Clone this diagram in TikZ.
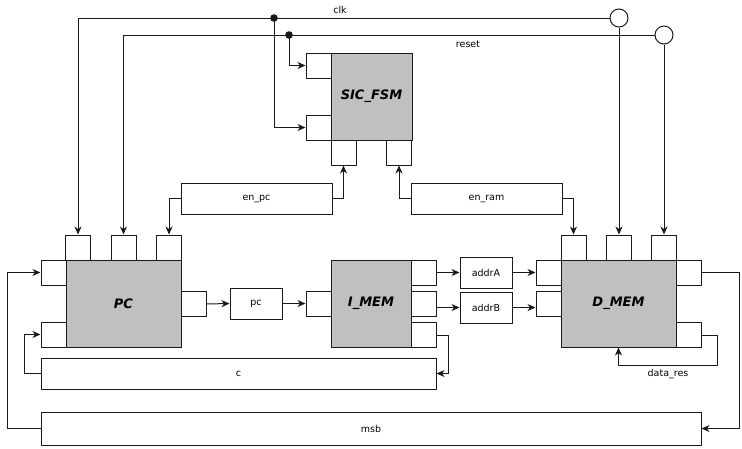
\documentclass[tikz,border=0pt]{standalone}
\usepackage{fontspec}
\setsansfont{DejaVu Sans}
\usepackage{xcolor}
\usepackage{tikz}
\usetikzlibrary{positioning, arrows.meta, calc}
\definecolor{blockgray}{HTML}{C0C0C0}
\definecolor{wirecol}{HTML}{1A1A1A}

\tikzset{
  block/.style={draw=wirecol, fill=blockgray, line width=1pt, inner sep=0pt,
                font=\sffamily\bfseries\itshape\fontsize{13}{15}\selectfont},
  port/.style={draw=wirecol, fill=white, line width=1pt, inner sep=0pt,
               minimum width=25pt, minimum height=25pt},
  sigbox/.style={draw=wirecol, fill=white, line width=1pt, inner sep=0pt,
                 minimum height=31pt, font=\sffamily\fontsize{9.5}{11}\selectfont},
  wire/.style={draw=wirecol, line width=1pt},
  arr/.style={wire, -{Stealth[length=8pt, width=7pt, inset=2.5pt]}},
  lbl/.style={font=\sffamily\fontsize{9.5}{11}\selectfont, inner sep=0pt}
}

\begin{document}
\begin{tikzpicture}[x=1pt, y=-1pt]
    \useasboundingbox (0,0) rectangle (742,448);

    % main blocks
    \node[block, minimum width=81pt, minimum height=87pt] (fsm) at (371.5,96.5) {SIC\_FSM};
    \node[block, minimum width=115pt, minimum height=87pt] (pc) at (123.5,303.5) {PC};
    \node[block, minimum width=80pt, minimum height=87pt] (imem) at (371,303.5) {I\_MEM};
    \node[block, minimum width=115pt, minimum height=87pt] (dmem) at (618.5,303.5) {D\_MEM};

    % ports
    \node[port] (fsmL1) at (318.5,65.5) {};
    \node[port] (fsmL2) at (318.5,127.5) {};
    \node[port] (fsmB1) at (343.5,152.5) {};
    \node[port] (fsmB2) at (399,152.5) {};

    \node[port] (pcT1) at (78,247.5) {};
    \node[port] (pcT2) at (123.5,247.5) {};
    \node[port] (pcT3) at (169,247.5) {};
    \node[port] (pcL1) at (53.5,272.5) {};
    \node[port] (pcL2) at (53.5,334.5) {};
    \node[port] (pcR) at (193.5,304) {};

    \node[port] (imemL) at (318.5,303.5) {};
    \node[port] (imemR1) at (423.5,272.5) {};
    \node[port] (imemR2) at (423.5,304) {};
    \node[port] (imemR3) at (423.5,335) {};

    \node[port] (dmemT1) at (573.5,247.5) {};
    \node[port] (dmemT2) at (619,247.5) {};
    \node[port] (dmemT3) at (664,247.5) {};
    \node[port] (dmemL1) at (548.5,272.5) {};
    \node[port] (dmemL2) at (548.5,304) {};
    \node[port] (dmemR1) at (688.5,272.5) {};
    \node[port] (dmemR2) at (688.5,335) {};

    % signal boxes
    \node[sigbox, minimum width=151pt] (enpc) at (256.5,198.5) {en\_pc};
    \node[sigbox, minimum width=151pt] (enram) at (486.5,198.5) {en\_ram};
    \node[sigbox, minimum width=52pt] (pcsig) at (256,303.5) {pc};
    \node[sigbox, minimum width=52pt] (addrA) at (486,272.5) {addrA};
    \node[sigbox, minimum width=52pt] (addrB) at (486,307.5) {addrB};
    \node[sigbox, minimum width=395pt] (csig) at (238.5,373.5) {c};
    \node[sigbox, minimum width=660pt, minimum height=33pt] (msb) at (371,428.5) {msb};

    % clock and reset sources
    \node[draw=wirecol, fill=white, line width=1pt, circle, minimum size=18pt, inner sep=0pt] (clk) at (619,18) {};
    \node[draw=wirecol, fill=white, line width=1pt, circle, minimum size=18pt, inner sep=0pt] (rst) at (664,35) {};
    \coordinate (clkdot) at (274,18);
    \coordinate (rstdot) at (289,35);

    \draw[arr] (clk.west) -| (pcT1.north);
    \draw[arr] (rst.west) -| (pcT2.north);
    \draw[arr] (clk.south) -- (dmemT2.north);
    \draw[arr] (rst.south) -- (dmemT3.north);
    \draw[arr] (clkdot) |- (fsmL2.west);
    \draw[arr] (rstdot) |- (fsmL1.west);
    \fill[wirecol] (clkdot) circle (3.8pt) (rstdot) circle (3.8pt);
    \node[lbl] at (340,10) {clk};
    \node[lbl] at (468,44) {reset};

    % enables
    \draw[arr] (enpc.west) -| (pcT3.north);
    \draw[arr] (enpc.east) -| (fsmB1.south);
    \draw[arr] (enram.west) -| (fsmB2.south);
    \draw[arr] (enram.east) -| (dmemT1.north);

    % datapath
    \draw[arr] (pcR.east) -- (pcsig.west);
    \draw[arr] (pcsig.east) -- (imemL.west);
    \draw[arr] (imemR1.east) -- (addrA.west);
    \draw[arr] (addrA.east) -- (dmemL1.west);
    \draw[arr] (imemR2.east |- addrB.west) -- (addrB.west);
    \draw[arr] (addrB.east) -- (dmemL2.west |- addrB.east);
    \draw[arr] (imemR3.east) -- ++(12,0) |- (csig.east);
    \draw[arr] (csig.west) -- ++(-16,0) |- (pcL2.west);
    \draw[arr] (dmemR1.east) -- ++(38,0) |- (msb.east);
    \draw[arr] (msb.west) -- ++(-33,0) |- (pcL1.west);
    \draw[arr] (dmemR2.east) -- ++(16,0) -- ++(0,30) -| (dmem.south);
    \node[lbl] at (668,374) {data\_res};
\end{tikzpicture}
\end{document}
